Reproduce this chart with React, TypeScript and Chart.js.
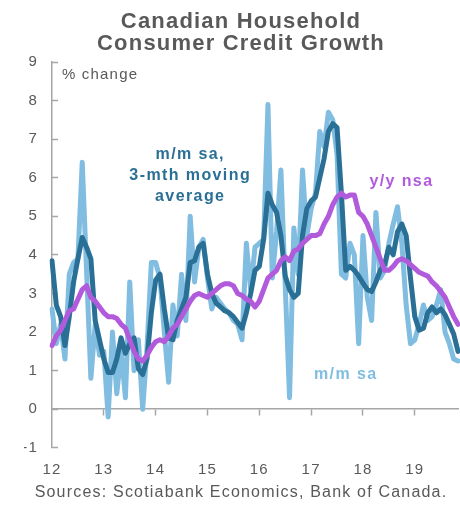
import React, { useEffect, useRef } from 'react';
import { Chart, registerables } from 'chart.js';

Chart.register(...registerables);

// Monthly observations, Jan 2012 .. Nov 2019
const yearTicks = ['12', '13', '14', '15', '16', '17', '18', '19'];
const monthNames = ['Jan', 'Feb', 'Mar', 'Apr', 'May', 'Jun', 'Jul', 'Aug', 'Sep', 'Oct', 'Nov', 'Dec'];

const mmSa = [
  2.6, 1.7, 2.2, 1.3, 3.5, 3.8, 3.9, 6.4, 3.6, 0.8, 2.2, 1.4,
  1.5, -0.2, 2.0, 0.4, 1.5, 0.3, 3.3, 1.0, 1.8, 0.0, 1.6, 3.8,
  3.8, 3.4, 2.0, 0.7, 2.7, 1.9, 3.5, 2.3, 5.0, 3.3, 4.2, 4.4,
  3.4, 2.6, 2.9, 2.75, 2.6, 2.5, 2.3, 2.2, 1.8, 4.3, 3.1, 4.2,
  4.3, 4.4, 7.9, 3.4, 4.6, 6.2, 3.2, 0.3, 4.7, 3.5, 6.2, 4.5,
  5.2, 5.6, 7.2, 6.8, 7.7, 7.5, 6.6, 3.5, 3.4, 4.3, 4.0, 1.7,
  4.5, 2.9, 2.3, 5.1, 3.4, 3.6, 4.3, 4.8, 5.25, 4.3, 2.7, 1.7,
  1.8, 2.2, 2.7, 2.3, 2.4, 2.7, 3.1, 2.0, 1.7, 1.3, 1.25,
];

const mm3ma = [
  3.85, 2.7, 2.4, 1.65, 2.4, 3.3, 3.9, 4.45, 4.2, 3.9, 2.3, 1.8,
  1.3, 0.95, 0.95, 1.3, 1.85, 1.45, 1.7, 1.85, 1.05, 0.9, 1.3, 2.5,
  3.35, 3.5, 2.6, 1.85, 1.8, 2.3, 2.6, 2.9, 3.8, 3.85, 4.2, 4.3,
  3.5, 3.0, 2.75, 2.65, 2.55, 2.5, 2.4, 2.25, 2.1, 2.5, 3.0, 3.6,
  3.7, 4.4, 5.6, 5.3, 5.1, 4.5, 3.45, 3.1, 2.9, 3.0, 4.5, 5.2,
  5.4, 5.5, 6.0, 6.5, 7.2, 7.4, 7.3, 5.6, 3.6, 3.7, 3.6, 3.45,
  3.27, 3.1, 3.05, 3.3, 3.6, 3.75, 4.2, 4.0, 4.6, 4.8, 4.5, 3.4,
  2.4, 2.05, 2.1, 2.5, 2.65, 2.5, 2.6, 2.45, 2.2, 1.95, 1.5,
];

const yyNsa = [
  1.65, 1.9, 2.05, 2.3, 2.55, 2.6, 2.85, 3.1, 3.2, 2.9, 2.8, 2.65,
  2.5, 2.4, 2.4, 2.35, 2.2, 2.1, 1.8, 1.5, 1.3, 1.25, 1.4, 1.6,
  1.75, 1.8, 1.75, 1.9, 2.1, 2.2, 2.4, 2.6, 2.8, 2.95, 3.0, 2.95,
  2.9, 3.0, 3.1, 3.2, 3.25, 3.25, 3.2, 3.0, 2.95, 2.85, 2.8, 2.65,
  2.8, 3.1, 3.4, 3.5, 3.6, 3.85, 3.95, 3.85, 4.1, 4.15, 4.3, 4.4,
  4.5, 4.5, 4.55, 4.8, 5.0, 5.3, 5.5, 5.6, 5.5, 5.55, 5.55, 5.1,
  5.0, 4.8, 4.5, 4.2, 3.9, 3.6, 3.6, 3.7, 3.85, 3.9, 3.85, 3.75,
  3.65, 3.55, 3.5, 3.45, 3.3, 3.2, 3.05, 2.9, 2.65, 2.4, 2.2,
];

const labels = mmSa.map((_, i) => `${monthNames[i % 12]} ${yearTicks[Math.floor(i / 12)]}`);

const LIGHT = '#80bde0';
const DARK = '#2a7096';
const PURPLE = '#b15adc';
const AXIS = '#a6a6a6';
const TEXT = '#595959';
const FONT = "'Liberation Sans', Arial, sans-serif";

// Text labels placed in data units: [text, month index, value, colour, bold, align]
const notes: [string, number, number, string, boolean, CanvasTextAlign][] = [
  ['% change', 2.3, 8.66, TEXT, false, 'left'],
  ['m/m sa,', 32, 6.6, DARK, true, 'center'],
  ['3-mth moving', 32, 6.05, DARK, true, 'center'],
  ['average', 32, 5.5, DARK, true, 'center'],
  ['y/y nsa', 80.9, 5.9, PURPLE, true, 'center'],
  ['m/m sa', 68, 0.9, LIGHT, true, 'center'],
];

const spacingPlugin = {
  id: 'spacing',
  beforeLayout(chart: any) {
    chart.ctx.letterSpacing = '1.2px';
  },
  beforeDraw(chart: any) {
    chart.ctx.letterSpacing = '1.2px';
  },
};

const notesPlugin = {
  id: 'notes',
  afterDatasetsDraw(chart: any) {
    const { ctx, scales } = chart;
    ctx.save();
    ctx.textBaseline = 'middle';
    for (const [text, m, v, color, bold, align] of notes) {
      ctx.font = `${bold ? 'bold ' : ''}${bold ? 16 : 15}px ${FONT}`;
      ctx.letterSpacing = bold ? '1.4px' : '1.2px';
      ctx.fillStyle = color;
      ctx.textAlign = align;
      ctx.fillText(text, scales.x.getPixelForValue(m), scales.y.getPixelForValue(v));
    }
    ctx.restore();
  },
};

export default function App() {
  const ref = useRef<HTMLCanvasElement>(null);
  useEffect(() => {
    if (!ref.current) return;
    const chart = new Chart(ref.current, {
      type: 'line',
      data: {
        labels,
        datasets: [
          { label: 'y/y nsa', data: yyNsa, borderColor: PURPLE, borderWidth: 5, order: 0 },
          { label: 'm/m sa, 3-mth moving average', data: mm3ma, borderColor: DARK, borderWidth: 5, order: 1 },
          { label: 'm/m sa', data: mmSa, borderColor: LIGHT, borderWidth: 5, order: 2 },
        ].map((d) => ({
          ...d,
          xAxisID: 'x',
          yAxisID: 'y',
          pointRadius: 0,
          tension: 0,
          fill: false,
          borderJoinStyle: 'round' as const,
          borderCapStyle: 'round' as const,
        })),
      },
      options: {
        animation: false,
        responsive: true,
        maintainAspectRatio: false,
        layout: { padding: { left: 24, right: 2, top: 0, bottom: 0 } },
        plugins: {
          legend: { display: false },
          tooltip: { enabled: false },
          title: {
            display: true,
            text: ['Canadian Household', 'Consumer Credit Growth'],
            color: TEXT,
            font: { family: FONT, size: 22, weight: 'bold', lineHeight: 1.0 },
            padding: { top: 11, bottom: 7 },
          },
          subtitle: {
            display: true,
            position: 'bottom',
            text: 'Sources: Scotiabank Economics, Bank of Canada.',
            color: TEXT,
            font: { family: FONT, size: 16, lineHeight: 1.2 },
            padding: { top: 4, bottom: 4 },
          },
        },
        scales: {
          x: {
            type: 'category',
            position: { y: 0 } as any,
            offset: false,
            afterFit: (s: any) => {
              s.height = 0;
            },
            grid: {
              display: true,
              drawOnChartArea: false,
              drawTicks: true,
              tickLength: 6,
              tickWidth: 1.5,
              tickColor: (c: any) => (c.index % 12 === 0 && c.index > 0 ? AXIS : 'rgba(0,0,0,0)'),
            },
            border: { display: true, color: AXIS, width: 1.5 },
            ticks: { display: false, autoSkip: false },
          },
          x2: {
            type: 'category',
            position: 'bottom',
            offset: false,
            afterFit: (s: any) => {
              s.height = 31;
            },
            grid: { display: false, drawTicks: false },
            border: { display: false },
            ticks: {
              autoSkip: false,
              maxRotation: 0,
              minRotation: 0,
              padding: 13,
              color: TEXT,
              font: { family: FONT, size: 15 },
              callback: (_v: any, i: number) => (i % 12 === 0 ? yearTicks[i / 12] : null),
            },
          },
          y: {
            min: -1,
            max: 9,
            position: 'left',
            afterFit: (s: any) => {
              s.width = 28;
            },
            grid: {
              display: true,
              drawOnChartArea: false,
              drawTicks: true,
              tickLength: -6,
              tickColor: AXIS,
              tickWidth: 1.5,
            },
            border: { display: true, color: AXIS, width: 1.5 },
            ticks: {
              stepSize: 1,
              padding: 20,
              color: TEXT,
              font: { family: FONT, size: 15 },
            },
          },
        },
      },
      plugins: [spacingPlugin, notesPlugin],
    });
    return () => chart.destroy();
  }, []);

  return (
    <div style={{ position: 'fixed', left: 0, top: 0, width: 460, height: 506, background: '#fff' }}>
      <canvas ref={ref} />
    </div>
  );
}
